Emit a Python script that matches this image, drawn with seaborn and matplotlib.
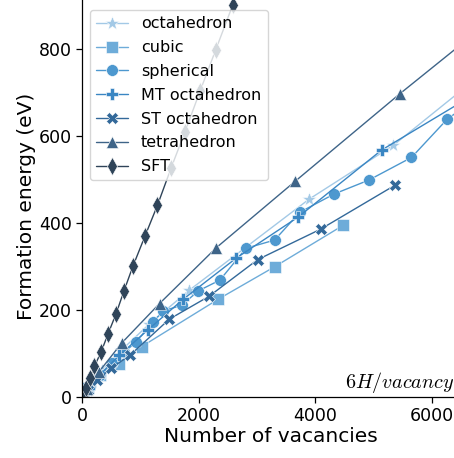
import matplotlib
matplotlib.use("Agg")
import matplotlib.pyplot as plt
import pandas as pd
import seaborn as sns

# Cluster shapes, in legend order
shapes = ["octahedron", "cubic", "spherical", "MT octahedron",
          "ST octahedron", "tetrahedron", "SFT"]

# Number of vacancies / formation energy (eV) for each shape
octa_n = [6, 44, 146, 344, 670, 1156, 1834, 3894, 5340, 7106]
octa_e = [1, 9, 30, 62, 107, 168, 245, 455, 579, 770]

cubic_n = [8, 103, 309, 630, 1023, 2337, 3309, 4480]
cubic_e = [1.5, 21, 50, 77, 116, 225, 300, 395]

sph_n = [5, 137, 309, 514, 720, 926, 1211, 1394, 1709, 1994, 2366, 2812,
         3303, 3737, 4325, 4920, 5651, 6263, 6900]
sph_e = [1, 25, 51, 78, 103, 126, 172, 198, 211, 244, 269, 342,
         361, 425, 467, 499, 551, 639, 700]

mt_n = [10, 120, 300, 640, 1126, 1737, 2640, 3708, 5138, 7000]
mt_e = [1.5, 20, 50, 96, 154, 225, 319, 414, 568, 718]

st_n = [5, 103, 263, 497, 823, 1497, 2183, 3012, 4092, 5366]
st_e = [1, 16, 39, 66, 96, 179, 232, 316, 386, 487]

tetra_n = [10, 84, 286, 680, 1330, 2300, 3654, 5456, 7770]
tetra_e = [3, 18, 57, 124, 215, 343, 496, 698, 948]

sft_n = [10, 69, 137, 214, 326, 446, 583, 720, 874, 1080, 1294, 1526,
         1766, 2023, 2292, 2583]
sft_e = [3, 21, 44, 71, 103, 145, 191, 244, 301, 370, 441, 526,
         610, 703, 798, 901]

series = {
    "octahedron": (octa_n, octa_e),
    "cubic": (cubic_n, cubic_e),
    "spherical": (sph_n, sph_e),
    "MT octahedron": (mt_n, mt_e),
    "ST octahedron": (st_n, st_e),
    "tetrahedron": (tetra_n, tetra_e),
    "SFT": (sft_n, sft_e),
}

rows = []
for name in shapes:
    n_vals, e_vals = series[name]
    for n, e in zip(n_vals, e_vals):
        rows.append({"shape": name, "vacancies": n, "energy": e})
df = pd.DataFrame(rows)

x_ticks = [0, 2000, 4000, 6000]
y_ticks = [0, 200, 400, 600, 800]

marker_map = {
    "octahedron": "*",
    "cubic": "s",
    "spherical": "o",
    "MT octahedron": "P",
    "ST octahedron": "X",
    "tetrahedron": "^",
    "SFT": "d",
}
marker_size = {"*": 10.5, "s": 8, "o": 8.5, "P": 8, "X": 8, "^": 8, "d": 9}

colors = ["#a3c9e6", "#6eacd9", "#4d98cf", "#3a86c3",
          "#33699a", "#3e6488", "#2f4459"]
palette = dict(zip(shapes, colors))

sns.set_theme(style="ticks")
plt.rcParams["font.family"] = ["DejaVu Sans"]
plt.rcParams["mathtext.fontset"] = "cm"
plt.rcParams["text.color"] = "black"
plt.rcParams["axes.labelcolor"] = "black"
plt.rcParams["xtick.color"] = "black"
plt.rcParams["ytick.color"] = "black"
plt.rcParams["axes.edgecolor"] = "black"

W, H = 454, 458
fig = plt.figure(figsize=(W / 100, H / 100), dpi=100)
ax = fig.add_axes([82 / W, 61 / H, 379 / W, 413 / H])

sns.lineplot(
    data=df, x="vacancies", y="energy",
    hue="shape", style="shape",
    hue_order=shapes, style_order=shapes,
    palette=palette, markers=marker_map, dashes=False,
    sort=False, estimator=None,
    linewidth=1.0, markersize=8, markeredgecolor="white",
    markeredgewidth=0.4, ax=ax,
)
for line in ax.lines:
    m = line.get_marker()
    if m in marker_size:
        line.set_markersize(marker_size[m])

ax.set_xlim(0, 6500)
ax.set_ylim(0, 950)
ax.set_xticks(x_ticks)
ax.set_yticks(y_ticks)
ax.tick_params(axis="both", labelsize=12.5, length=4, width=0.9, pad=3.5)
for side in ("left", "bottom"):
    ax.spines[side].set_linewidth(0.9)

ax.set_xlabel("Number of vacancies", fontsize=14.5)
ax.set_ylabel("Formation energy (eV)", fontsize=14.5)
ax.xaxis.set_label_coords((270.8 - 82) / 379, (31 - 61) / 413)
ax.yaxis.set_label_coords((36 - 82) / 379, (252 - 61) / 413)

ax.text(6390, 20.5, r"$6H/vacancy$", ha="right", va="baseline", fontsize=14.5)

handles, labels = ax.get_legend_handles_labels()
for h in handles:
    m = h.get_marker()
    if m in marker_size:
        h.set_markersize(marker_size[m])
ax.legend(handles, labels, loc="upper left",
          bbox_to_anchor=(90 / W, 1 - 10 / H), bbox_transform=fig.transFigure,
          borderaxespad=0, fontsize=11.5, labelspacing=0.55,
          frameon=True, fancybox=True)

fig.savefig("out.png", dpi=100)
